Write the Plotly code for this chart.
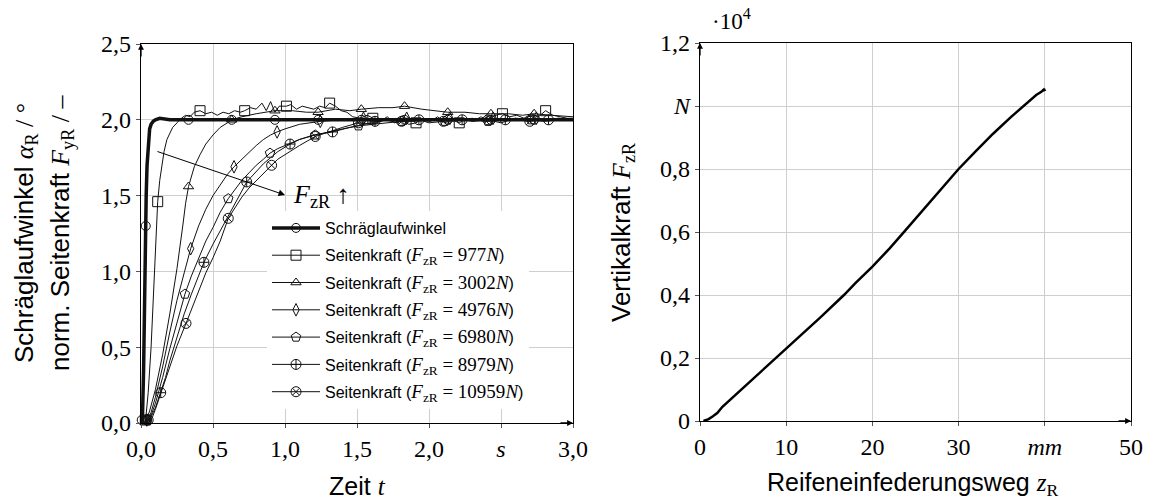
import plotly.graph_objects as go

# ---------------- data ----------------
# Schräglaufwinkel (thick line)
t_alpha = [0.0, 0.01, 0.018, 0.024, 0.03, 0.036, 0.042, 0.05, 0.06, 0.07, 0.085, 0.1, 0.13, 0.2, 0.5, 1.0, 1.5, 2.0, 2.5, 3.0]
y_alpha = [0.0, 0.03, 0.35, 0.85, 1.2, 1.5, 1.7, 1.86, 1.94, 1.97, 1.99, 2.0, 2.01, 2.0, 2.0, 2.0, 2.0, 2.0, 2.0, 2.0]
tm_alpha = [0.005, 0.033, 0.33, 0.63, 0.93, 1.23, 1.53, 1.83, 2.13, 2.43, 2.73]
ym_alpha = [0.02, 1.30, 2.0, 2.0, 2.0, 2.0, 2.0, 2.0, 2.0, 2.0, 2.0]

# Seitenkraft F_zR = 977 N
t_977 = [0.03, 0.05, 0.07, 0.09, 0.105, 0.116, 0.13, 0.145, 0.16, 0.18, 0.2, 0.22, 0.25, 0.28, 0.31, 0.34, 0.37, 0.41,
         0.45, 0.49, 0.53, 0.57, 0.61, 0.65, 0.69, 0.72, 0.76, 0.8, 0.84, 0.87, 0.9, 0.93, 0.96, 1.01, 1.04, 1.08, 1.12,
         1.16, 1.2, 1.24, 1.28, 1.31, 1.35, 1.39, 1.43, 1.47, 1.52, 1.57, 1.61, 1.66, 1.71, 1.76, 1.81, 1.86, 1.91, 1.96,
         2.01, 2.06, 2.11, 2.16, 2.21, 2.26, 2.31, 2.36, 2.41, 2.46, 2.51, 2.56, 2.61, 2.66, 2.71, 2.76, 2.81, 2.86, 2.91,
         2.96, 3.0]
y_977 = [0.0, 0.2, 0.5, 0.9, 1.25, 1.46, 1.6, 1.7, 1.79, 1.87, 1.91, 1.95, 1.98, 2.01, 2.03, 2.02, 2.05, 2.06,
         2.04, 2.05, 2.03, 2.05, 2.04, 2.06, 2.05, 2.06, 2.08, 2.07, 2.11, 2.06, 2.12, 2.05, 2.09, 2.09, 2.10, 2.07, 2.09,
         2.08, 2.07, 2.09, 2.08, 2.11, 2.09, 2.06, 2.05, 2.02, 2.01, 2.03, 2.01, 1.99, 2.02, 1.98, 2.0, 1.97, 1.98, 2.01,
         1.99, 2.02, 1.98, 2.0, 1.98, 2.01, 1.99, 2.02, 2.0, 2.03, 2.04, 2.02, 2.03, 2.01, 2.04, 2.02, 2.06, 2.03, 2.02,
         2.01, 2.01]
tm_977 = [0.03, 0.116, 0.41, 0.72, 1.01, 1.31, 1.61, 1.91, 2.21, 2.51, 2.81]
ym_977 = [0.02, 1.46, 2.06, 2.06, 2.09, 2.11, 2.01, 1.98, 1.98, 2.04, 2.06]

# Seitenkraft F_zR = 3002 N
t_3002 = [0.03, 0.06, 0.1, 0.15, 0.2, 0.25, 0.29, 0.31, 0.33, 0.35, 0.37, 0.41, 0.45, 0.5, 0.55, 0.6, 0.63, 0.7, 0.8,
          0.93, 1.05, 1.15, 1.23, 1.35, 1.45, 1.53, 1.65, 1.75, 1.83, 1.95, 2.05, 2.13, 2.25, 2.35, 2.43, 2.55, 2.65,
          2.73, 2.85, 3.0]
y_3002 = [0.0, 0.08, 0.22, 0.45, 0.72, 1.02, 1.3, 1.45, 1.56, 1.63, 1.69, 1.77, 1.84, 1.9, 1.95, 1.98, 2.0, 2.02, 2.04,
          2.06, 2.06, 2.05, 2.05, 2.07, 2.06, 2.07, 2.08, 2.08, 2.09, 2.07, 2.06, 2.05, 2.05, 2.04, 2.04, 2.04, 2.03,
          2.04, 2.03, 2.02]
tm_3002 = [0.03, 0.33, 0.63, 0.93, 1.23, 1.53, 1.83, 2.13, 2.43, 2.73]
ym_3002 = [0.02, 1.56, 2.0, 2.06, 2.05, 2.07, 2.09, 2.05, 2.04, 2.04]

# Seitenkraft F_zR = 4976 N
t_4976 = [0.04, 0.07, 0.1, 0.15, 0.2, 0.25, 0.3, 0.345, 0.4, 0.45, 0.5, 0.55, 0.6, 0.646, 0.7, 0.75, 0.8, 0.85, 0.9,
          0.945, 1.0, 1.1, 1.245, 1.4, 1.545, 1.7, 1.845, 2.0, 2.145, 2.3, 2.445, 2.6, 2.745, 2.9, 3.0]
y_4976 = [0.0, 0.07, 0.17, 0.37, 0.6, 0.81, 0.99, 1.15, 1.3, 1.41, 1.5, 1.57, 1.64, 1.69, 1.74, 1.79, 1.83, 1.87, 1.9,
          1.92, 1.94, 1.97, 1.99, 2.0, 2.01, 2.0, 2.01, 2.0, 2.01, 2.0, 2.01, 2.0, 2.01, 2.0, 2.0]
tm_4976 = [0.04, 0.345, 0.646, 0.945, 1.245, 1.545, 1.845, 2.145, 2.445, 2.745]
ym_4976 = [0.02, 1.15, 1.69, 1.92, 1.99, 2.01, 2.01, 2.01, 2.01, 2.01]

# Seitenkraft F_zR = 6980 N
t_6980 = [0.04, 0.07, 0.1, 0.15, 0.2, 0.25, 0.305, 0.35, 0.4, 0.45, 0.5, 0.55, 0.606, 0.65, 0.7, 0.75, 0.8, 0.85, 0.896,
          0.95, 1.0, 1.1, 1.21, 1.3, 1.4, 1.51, 1.6, 1.7, 1.81, 1.9, 2.0, 2.11, 2.2, 2.31, 2.41, 2.5, 2.61, 2.71, 2.8,
          2.9, 3.0]
y_6980 = [0.0, 0.05, 0.13, 0.3, 0.49, 0.67, 0.85, 0.97, 1.09, 1.2, 1.29, 1.39, 1.48, 1.54, 1.6, 1.65, 1.7, 1.74, 1.78,
          1.81, 1.83, 1.87, 1.9, 1.92, 1.94, 1.96, 1.97, 1.98, 1.99, 1.99, 2.0, 1.99, 2.01, 2.0, 1.99, 2.0, 2.01, 2.0,
          1.99, 2.0, 2.0]
tm_6980 = [0.04, 0.305, 0.606, 0.896, 1.21, 1.51, 1.81, 2.11, 2.41, 2.71]
ym_6980 = [0.02, 0.85, 1.48, 1.78, 1.9, 1.96, 1.99, 1.99, 1.99, 2.0]

# Seitenkraft F_zR = 8979 N
t_8979 = [0.04, 0.07, 0.1, 0.137, 0.17, 0.2, 0.25, 0.3, 0.35, 0.4, 0.437, 0.5, 0.55, 0.6, 0.65, 0.7, 0.734, 0.8, 0.85,
          0.9, 0.95, 1.035, 1.1, 1.2, 1.33, 1.45, 1.55, 1.625, 1.7, 1.78, 1.85, 1.93, 2.0, 2.08, 2.15, 2.23, 2.3, 2.38,
          2.45, 2.53, 2.6, 2.68, 2.75, 2.83, 2.9, 3.0]
y_8979 = [0.0, 0.04, 0.1, 0.2, 0.3, 0.41, 0.57, 0.72, 0.85, 0.97, 1.06, 1.18, 1.27, 1.36, 1.45, 1.53, 1.59, 1.66, 1.71,
          1.75, 1.79, 1.84, 1.87, 1.9, 1.92, 1.95, 1.97, 1.99, 2.0, 1.98, 2.01, 2.0, 1.99, 2.01, 1.99, 2.0, 2.01, 1.99,
          2.0, 2.0, 2.01, 1.99, 2.0, 2.0, 2.01, 2.0]
tm_8979 = [0.04, 0.137, 0.437, 0.734, 1.035, 1.33, 1.625, 1.93, 2.23, 2.53, 2.83]
ym_8979 = [0.02, 0.2, 1.06, 1.59, 1.84, 1.92, 1.99, 2.0, 2.0, 2.0, 2.0]

# Seitenkraft F_zR = 10959 N
t_10959 = [0.05, 0.08, 0.1, 0.15, 0.2, 0.25, 0.3125, 0.35, 0.4, 0.45, 0.5, 0.55, 0.606, 0.65, 0.7, 0.75, 0.8, 0.85,
           0.907, 0.95, 1.0, 1.1, 1.21, 1.3, 1.4, 1.51, 1.6, 1.7, 1.81, 1.9, 2.0, 2.1, 2.2, 2.3, 2.41, 2.5, 2.6, 2.7,
           2.8, 2.9, 3.0]
y_10959 = [0.0, 0.04, 0.09, 0.23, 0.38, 0.51, 0.657, 0.75, 0.87, 0.99, 1.09, 1.2, 1.35, 1.42, 1.49, 1.55, 1.6, 1.65,
           1.7, 1.74, 1.77, 1.83, 1.89, 1.92, 1.95, 1.98, 1.97, 2.0, 1.99, 2.01, 1.98, 1.99, 2.01, 1.99, 2.0, 1.98, 2.01,
           1.99, 2.0, 2.01, 2.0]
tm_10959 = [0.05, 0.3125, 0.606, 0.907, 1.21, 1.51, 1.81, 2.1, 2.41, 2.7]
ym_10959 = [0.02, 0.657, 1.35, 1.7, 1.89, 1.98, 1.99, 1.99, 2.0, 1.99]

# Right plot: Vertikalkraft (x 10^4 N) over Reifeneinfederungsweg (mm)
z_R = [0.4, 1.0, 1.5, 2.0, 2.6, 3.0, 4.0, 5.0, 6.0, 7.0, 8.0, 8.7, 10.0, 12.0, 14.0, 16.7, 18.0, 20.0, 22.0, 23.5,
       25.0, 27.0, 30.0, 32.0, 34.0, 36.0, 37.6, 39.0, 39.6, 40.0, 39.7, 40.1]
F_zR = [0.0, 0.006, 0.015, 0.025, 0.045, 0.055, 0.08, 0.105, 0.13, 0.155, 0.178, 0.195, 0.228, 0.278, 0.33, 0.4, 0.437,
        0.49, 0.548, 0.595, 0.642, 0.705, 0.8, 0.857, 0.912, 0.963, 1.0, 1.035, 1.045, 1.055, 1.048, 1.052]

left_xticks = [0, 0.5, 1.0, 1.5, 2.0, 2.5, 3.0]
left_xtext = ["0,0", "0,5", "1,0", "1,5", "2,0", "<i>s</i>", "3,0"]
left_yticks = [0, 0.5, 1.0, 1.5, 2.0, 2.5]
left_ytext = ["0,0", "0,5", "1,0", "1,5", "2,0", "2,5"]
right_xticks = [0, 10, 20, 30, 40, 50]
right_xtext = ["0", "10", "20", "30", "<i>mm</i>", "50"]
right_yticks = [0, 0.2, 0.4, 0.6, 0.8, 1.0, 1.2]
right_ytext = ["0", "0,2", "0,4", "0,6", "0,8", "<i>N</i>", "1,2"]

SERIF = "Liberation Serif"
SANS = "Liberation Sans"


def math(s, size=None):
    st = "font-family:Liberation Serif"
    if size:
        st += ";font-size:%dpx" % size
    return '<span style="' + st + '">' + s + '</span>'


def leg(n):
    return "Seitenkraft (" + math("<i>F</i><sub>zR</sub> = %d<i>N</i>" % n, 19) + ")"


series = [
    ("Schräglaufwinkel", t_alpha, y_alpha, tm_alpha, ym_alpha, "circle-open", 3.5, 9),
    (leg(977), t_977, y_977, tm_977, ym_977, "square-open", 1, 10),
    (leg(3002), t_3002, y_3002, tm_3002, ym_3002, "triangle-up-open", 1, 9),
    (leg(4976), t_4976, y_4976, tm_4976, ym_4976, "diamond-tall-open", 1, 9),
    (leg(6980), t_6980, y_6980, tm_6980, ym_6980, "pentagon-open", 1, 10),
    (leg(8979), t_8979, y_8979, tm_8979, ym_8979, "circle-cross-open", 1, 10),
    (leg(10959), t_10959, y_10959, tm_10959, ym_10959, "circle-x-open", 1, 10),
]

fig = go.Figure()
LINEC = "#111111"
for i, (name, t, y, tm, ym, sym, lw, ms) in enumerate(series):
    assert len(t) == len(y) and len(tm) == len(ym)
    fig.add_trace(go.Scatter(x=t, y=y, mode="lines", line=dict(color=LINEC, width=lw),
                             showlegend=False, xaxis="x", yaxis="y", hoverinfo="skip"))
    fig.add_trace(go.Scatter(x=tm, y=ym, mode="markers",
                             marker=dict(symbol=sym, size=ms, color=LINEC, line=dict(width=1, color=LINEC)),
                             showlegend=False, cliponaxis=False, xaxis="x", yaxis="y"))
    fig.add_trace(go.Scatter(x=[None], y=[None], mode="lines+markers", name=name,
                             line=dict(color=LINEC, width=lw),
                             marker=dict(symbol=sym, size=ms, color=LINEC, line=dict(width=1, color=LINEC)),
                             legendgroup="g%d" % i, xaxis="x", yaxis="y"))

assert len(z_R) == len(F_zR)
fig.add_trace(go.Scatter(x=z_R, y=F_zR, mode="lines", line=dict(color="black", width=2.5),
                         showlegend=False, xaxis="x2", yaxis="y2"))

axis_common = dict(showline=True, linecolor="black", linewidth=1.3, mirror=True,
                   showgrid=True, gridcolor="#cfcfcf", gridwidth=1, automargin=False,
                   ticks="outside", ticklen=4, tickcolor="#555", zeroline=False,
                   tickfont=dict(family=SERIF, size=24, color="black"))

fig.update_layout(
    template="none",
    width=1152, height=503, margin=dict(l=0, r=0, t=0, b=0, autoexpand=False),
    paper_bgcolor="white", plot_bgcolor="white",
    xaxis=dict(domain=[141 / 1152, 573 / 1152], range=[0, 3], tickvals=left_xticks, ticktext=left_xtext,
               anchor="y", **axis_common),
    yaxis=dict(domain=[(503 - 423) / 503, (503 - 44) / 503], range=[0, 2.5], tickvals=left_yticks,
               ticktext=left_ytext, anchor="x", **axis_common),
    xaxis2=dict(domain=[700 / 1152, 1131 / 1152], range=[0, 50], tickvals=right_xticks, ticktext=right_xtext,
                anchor="y2", **axis_common),
    yaxis2=dict(domain=[(503 - 421) / 503, (503 - 43) / 503], range=[0, 1.2], tickvals=right_yticks,
                ticktext=right_ytext, anchor="x2", **axis_common),
    legend=dict(x=267 / 1152, y=1 - 211 / 503, xanchor="left", yanchor="top", bgcolor="white",
                borderwidth=0, font=dict(family=SANS, size=16, color="black"),
                traceorder="grouped", tracegroupgap=3.5, itemwidth=48),
    showlegend=True,
)

ann = []
# axis titles
ann.append(dict(text="Zeit " + math("<i>t</i>"), x=357, y=486, size=25))
ann.append(dict(text="Reifeneinfederungsweg " + math("<i>z</i><sub>R</sub>"), x=912, y=484, size=25))
ann.append(dict(text="Schräglaufwinkel " + math("<i>α</i><sub>R</sub> / °"), x=25, y=233, textangle=-90))
ann.append(dict(text="norm. Seitenkraft " + math("<i>F</i><sub>yR</sub> / –"), x=61, y=233, textangle=-90))
ann.append(dict(text="Vertikalkraft " + math("<i>F</i><sub>zR</sub>"), x=622, y=232, textangle=-90))
final = []
for a in ann:
    final.append(dict(text=a["text"], x=a["x"] / 1152, y=1 - a["y"] / 503, xref="paper", yref="paper",
                      showarrow=False, textangle=a.get("textangle", 0), xanchor="center", yanchor="middle",
                      font=dict(family=SANS, size=a.get("size", 26), color="black")))
# 10^4 multiplier
final.append(dict(text="·10<sup>4</sup>", x=731 / 1152, y=1 - 20 / 503, xref="paper", yref="paper",
                  xanchor="center", yanchor="middle",
                  showarrow=False, font=dict(family=SERIF, size=23, color="black")))
# F_zR arrow
final.append(dict(x=1.0, y=1.504, ax=0.104, ay=1.794, xref="x", yref="y", axref="x", ayref="y",
                  showarrow=True, arrowhead=2, arrowsize=1.3, arrowwidth=1, arrowcolor="black", text=""))
final.append(dict(text="<i>F</i><sub>zR</sub> ↑", x=1.04, y=1.5, xref="x", yref="y", xanchor="left",
                  yanchor="middle", showarrow=False, font=dict(family=SERIF, size=26, color="black")))
# axis arrow tips
for xr, yr, x, y, ax, ay in [("x", "y", 0, 2.5, 0, 14), ("x", "y", 3.0, 0, -14, 0),
                             ("x2", "y2", 0, 1.2, 0, 14), ("x2", "y2", 50, 0, -14, 0)]:
    final.append(dict(x=x, y=y, xref=xr, yref=yr, ax=ax, ay=ay, showarrow=True, arrowhead=2,
                      arrowsize=0.9, arrowwidth=1.3, arrowcolor="black", text=""))
fig.update_layout(annotations=final)

fig.write_html("out.html")
